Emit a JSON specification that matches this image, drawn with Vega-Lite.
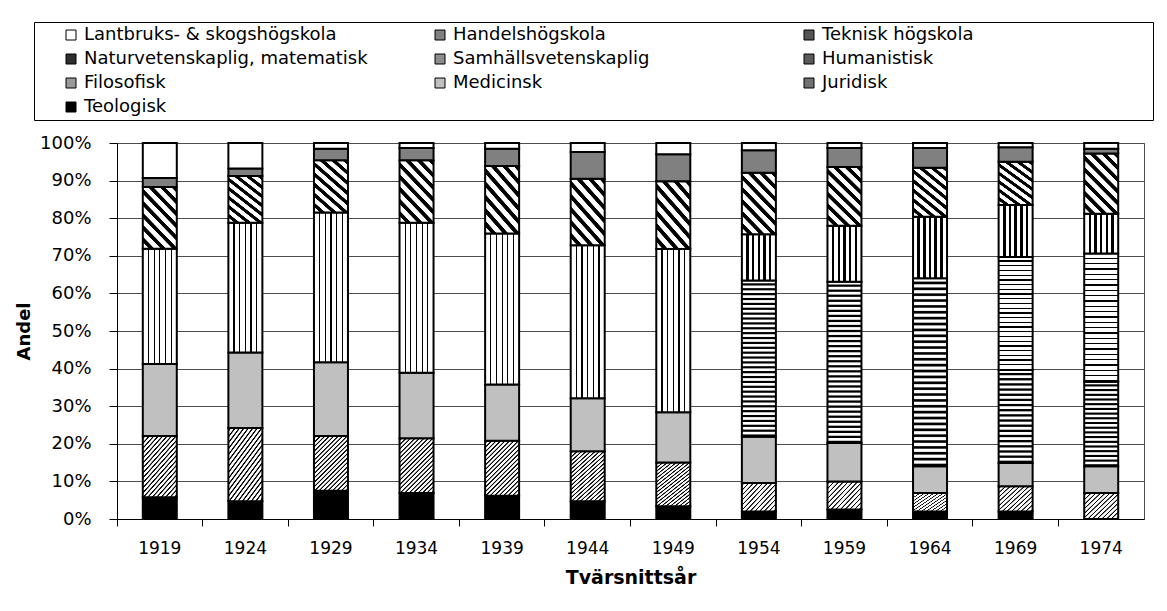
{
 "$schema": "https://vega.github.io/schema/vega-lite/v6.json",
 "width": 1027,
 "height": 376,
 "autosize": {"type": "none"},
 "padding": {"left": 117, "top": 143, "right": 23, "bottom": 92},
 "background": "white",
 "datasets": {
  "fakulteter": [
   {"fakultet": "Teologisk", "ordning": 1},
   {"fakultet": "Juridisk", "ordning": 2},
   {"fakultet": "Medicinsk", "ordning": 3},
   {"fakultet": "Filosofisk", "ordning": 4},
   {"fakultet": "Humanistisk", "ordning": 5},
   {"fakultet": "Samhällsvetenskaplig", "ordning": 6},
   {"fakultet": "Naturvetenskaplig, matematisk", "ordning": 7},
   {"fakultet": "Teknisk högskola", "ordning": 8},
   {"fakultet": "Handelshögskola", "ordning": 9},
   {"fakultet": "Lantbruks- & skogshögskola", "ordning": 10}
  ],
  "andelar": [
   {"ar": 1919, "fakultet": "Teologisk", "andel": 5.8},
   {"ar": 1919, "fakultet": "Juridisk", "andel": 16.3},
   {"ar": 1919, "fakultet": "Medicinsk", "andel": 19.1},
   {"ar": 1919, "fakultet": "Filosofisk", "andel": 30.7},
   {"ar": 1919, "fakultet": "Teknisk högskola", "andel": 16.4},
   {"ar": 1919, "fakultet": "Handelshögskola", "andel": 2.4},
   {"ar": 1919, "fakultet": "Lantbruks- & skogshögskola", "andel": 9.3},
   {"ar": 1924, "fakultet": "Teologisk", "andel": 4.7},
   {"ar": 1924, "fakultet": "Juridisk", "andel": 19.5},
   {"ar": 1924, "fakultet": "Medicinsk", "andel": 20.1},
   {"ar": 1924, "fakultet": "Filosofisk", "andel": 34.5},
   {"ar": 1924, "fakultet": "Teknisk högskola", "andel": 12.4},
   {"ar": 1924, "fakultet": "Handelshögskola", "andel": 2.0},
   {"ar": 1924, "fakultet": "Lantbruks- & skogshögskola", "andel": 6.8},
   {"ar": 1929, "fakultet": "Teologisk", "andel": 7.5},
   {"ar": 1929, "fakultet": "Juridisk", "andel": 14.6},
   {"ar": 1929, "fakultet": "Medicinsk", "andel": 19.6},
   {"ar": 1929, "fakultet": "Filosofisk", "andel": 39.8},
   {"ar": 1929, "fakultet": "Teknisk högskola", "andel": 13.9},
   {"ar": 1929, "fakultet": "Handelshögskola", "andel": 3.1},
   {"ar": 1929, "fakultet": "Lantbruks- & skogshögskola", "andel": 1.5},
   {"ar": 1934, "fakultet": "Teologisk", "andel": 6.9},
   {"ar": 1934, "fakultet": "Juridisk", "andel": 14.6},
   {"ar": 1934, "fakultet": "Medicinsk", "andel": 17.4},
   {"ar": 1934, "fakultet": "Filosofisk", "andel": 39.9},
   {"ar": 1934, "fakultet": "Teknisk högskola", "andel": 16.6},
   {"ar": 1934, "fakultet": "Handelshögskola", "andel": 3.3},
   {"ar": 1934, "fakultet": "Lantbruks- & skogshögskola", "andel": 1.3},
   {"ar": 1939, "fakultet": "Teologisk", "andel": 6.2},
   {"ar": 1939, "fakultet": "Juridisk", "andel": 14.6},
   {"ar": 1939, "fakultet": "Medicinsk", "andel": 15.0},
   {"ar": 1939, "fakultet": "Filosofisk", "andel": 40.1},
   {"ar": 1939, "fakultet": "Teknisk högskola", "andel": 18.0},
   {"ar": 1939, "fakultet": "Handelshögskola", "andel": 4.6},
   {"ar": 1939, "fakultet": "Lantbruks- & skogshögskola", "andel": 1.5},
   {"ar": 1944, "fakultet": "Teologisk", "andel": 4.7},
   {"ar": 1944, "fakultet": "Juridisk", "andel": 13.3},
   {"ar": 1944, "fakultet": "Medicinsk", "andel": 14.1},
   {"ar": 1944, "fakultet": "Filosofisk", "andel": 40.7},
   {"ar": 1944, "fakultet": "Teknisk högskola", "andel": 17.7},
   {"ar": 1944, "fakultet": "Handelshögskola", "andel": 7.1},
   {"ar": 1944, "fakultet": "Lantbruks- & skogshögskola", "andel": 2.4},
   {"ar": 1949, "fakultet": "Teologisk", "andel": 3.4},
   {"ar": 1949, "fakultet": "Juridisk", "andel": 11.6},
   {"ar": 1949, "fakultet": "Medicinsk", "andel": 13.4},
   {"ar": 1949, "fakultet": "Filosofisk", "andel": 43.4},
   {"ar": 1949, "fakultet": "Teknisk högskola", "andel": 18.0},
   {"ar": 1949, "fakultet": "Handelshögskola", "andel": 7.2},
   {"ar": 1949, "fakultet": "Lantbruks- & skogshögskola", "andel": 3.0},
   {"ar": 1954, "fakultet": "Teologisk", "andel": 2.0},
   {"ar": 1954, "fakultet": "Juridisk", "andel": 7.6},
   {"ar": 1954, "fakultet": "Medicinsk", "andel": 12.3},
   {"ar": 1954, "fakultet": "Humanistisk", "andel": 41.5},
   {"ar": 1954, "fakultet": "Naturvetenskaplig, matematisk", "andel": 12.3},
   {"ar": 1954, "fakultet": "Teknisk högskola", "andel": 16.4},
   {"ar": 1954, "fakultet": "Handelshögskola", "andel": 6.0},
   {"ar": 1954, "fakultet": "Lantbruks- & skogshögskola", "andel": 1.9},
   {"ar": 1959, "fakultet": "Teologisk", "andel": 2.5},
   {"ar": 1959, "fakultet": "Juridisk", "andel": 7.5},
   {"ar": 1959, "fakultet": "Medicinsk", "andel": 10.2},
   {"ar": 1959, "fakultet": "Humanistisk", "andel": 42.9},
   {"ar": 1959, "fakultet": "Naturvetenskaplig, matematisk", "andel": 14.9},
   {"ar": 1959, "fakultet": "Teknisk högskola", "andel": 15.6},
   {"ar": 1959, "fakultet": "Handelshögskola", "andel": 5.1},
   {"ar": 1959, "fakultet": "Lantbruks- & skogshögskola", "andel": 1.3},
   {"ar": 1964, "fakultet": "Teologisk", "andel": 2.0},
   {"ar": 1964, "fakultet": "Juridisk", "andel": 4.9},
   {"ar": 1964, "fakultet": "Medicinsk", "andel": 7.1},
   {"ar": 1964, "fakultet": "Humanistisk", "andel": 50.0},
   {"ar": 1964, "fakultet": "Naturvetenskaplig, matematisk", "andel": 16.4},
   {"ar": 1964, "fakultet": "Teknisk högskola", "andel": 13.0},
   {"ar": 1964, "fakultet": "Handelshögskola", "andel": 5.3},
   {"ar": 1964, "fakultet": "Lantbruks- & skogshögskola", "andel": 1.3},
   {"ar": 1969, "fakultet": "Teologisk", "andel": 2.0},
   {"ar": 1969, "fakultet": "Juridisk", "andel": 6.7},
   {"ar": 1969, "fakultet": "Medicinsk", "andel": 6.2},
   {"ar": 1969, "fakultet": "Humanistisk", "andel": 24.7},
   {"ar": 1969, "fakultet": "Samhällsvetenskaplig", "andel": 30.1},
   {"ar": 1969, "fakultet": "Naturvetenskaplig, matematisk", "andel": 13.8},
   {"ar": 1969, "fakultet": "Teknisk högskola", "andel": 11.5},
   {"ar": 1969, "fakultet": "Handelshögskola", "andel": 3.9},
   {"ar": 1969, "fakultet": "Lantbruks- & skogshögskola", "andel": 1.1},
   {"ar": 1974, "fakultet": "Juridisk", "andel": 6.9},
   {"ar": 1974, "fakultet": "Medicinsk", "andel": 7.1},
   {"ar": 1974, "fakultet": "Humanistisk", "andel": 22.5},
   {"ar": 1974, "fakultet": "Samhällsvetenskaplig", "andel": 34.1},
   {"ar": 1974, "fakultet": "Naturvetenskaplig, matematisk", "andel": 10.6},
   {"ar": 1974, "fakultet": "Teknisk högskola", "andel": 16.0},
   {"ar": 1974, "fakultet": "Handelshögskola", "andel": 1.3},
   {"ar": 1974, "fakultet": "Lantbruks- & skogshögskola", "andel": 1.5}
  ]
 },
 "data": {"name": "andelar"},
 "transform": [
  {"lookup": "fakultet", "from": {"data": {"name": "fakulteter"}, "key": "fakultet", "fields": ["ordning"]}}
 ],
 "mark": {"type": "bar", "width": 34, "stroke": "black", "strokeWidth": 2},
 "encoding": {
  "x": {
   "field": "ar", "type": "ordinal", "title": "Tvärsnittsår",
   "scale": {"paddingInner": 0, "paddingOuter": 0},
   "axis": {"labelAngle": 0, "bandPosition": 0, "tickSize": 7, "tickColor": "black", "tickWidth": 1,
            "domainColor": "black", "domainWidth": 1, "grid": false,
            "labelFont": "DejaVu Sans", "labelFontSize": 17, "labelColor": "black", "labelPadding": 14,
            "titleFont": "DejaVu Sans", "titleFontSize": 19, "titleFontWeight": "bold", "titleColor": "black", "titlePadding": 12}
  },
  "y": {
   "field": "andel", "type": "quantitative", "stack": "normalize", "title": "Andel",
   "scale": {"domain": [0, 1]},
   "axis": {"values": [0, 0.1, 0.2, 0.3, 0.4, 0.5, 0.6, 0.7, 0.8, 0.9, 1], "format": ".0%",
            "tickSize": 8, "tickColor": "black", "tickWidth": 1, "domainColor": "black", "domainWidth": 1,
            "grid": true, "gridColor": "#4d4d4d", "gridWidth": 1,
            "labelFont": "DejaVu Sans", "labelFontSize": 18, "labelColor": "black", "labelPadding": 18,
            "titleFont": "DejaVu Sans", "titleFontSize": 18, "titleFontWeight": "bold", "titleColor": "black", "titlePadding": 6}
  },
  "order": {"field": "ordning", "type": "quantitative", "sort": "ascending"},
  "color": {
   "condition": [
    {"test": "datum.fakultet === 'Humanistisk' && datum.ar >= 1969",
     "value": {"gradient": "linear", "x1": 0, "y1": 0, "x2": 0, "y2": 1, "stops": [
     {"offset":0.0256,"color":"#fff"},{"offset":0.0356,"color":"#000"},{"offset":0.0506,"color":"#000"},{"offset":0.0606,"color":"#fff"},
     {"offset":0.0811,"color":"#fff"},{"offset":0.0911,"color":"#000"},{"offset":0.1061,"color":"#000"},{"offset":0.1161,"color":"#fff"},
     {"offset":0.1367,"color":"#fff"},{"offset":0.1467,"color":"#000"},{"offset":0.1617,"color":"#000"},{"offset":0.1717,"color":"#fff"},
     {"offset":0.1922,"color":"#fff"},{"offset":0.2022,"color":"#000"},{"offset":0.2172,"color":"#000"},{"offset":0.2272,"color":"#fff"},
     {"offset":0.2478,"color":"#fff"},{"offset":0.2578,"color":"#000"},{"offset":0.2728,"color":"#000"},{"offset":0.2828,"color":"#fff"},
     {"offset":0.3033,"color":"#fff"},{"offset":0.3133,"color":"#000"},{"offset":0.3283,"color":"#000"},{"offset":0.3383,"color":"#fff"},
     {"offset":0.3589,"color":"#fff"},{"offset":0.3689,"color":"#000"},{"offset":0.3839,"color":"#000"},{"offset":0.3939,"color":"#fff"},
     {"offset":0.4144,"color":"#fff"},{"offset":0.4244,"color":"#000"},{"offset":0.4394,"color":"#000"},{"offset":0.4494,"color":"#fff"},
     {"offset":0.47,"color":"#fff"},{"offset":0.48,"color":"#000"},{"offset":0.495,"color":"#000"},{"offset":0.505,"color":"#fff"},
     {"offset":0.5256,"color":"#fff"},{"offset":0.5356,"color":"#000"},{"offset":0.5506,"color":"#000"},{"offset":0.5606,"color":"#fff"},
     {"offset":0.5811,"color":"#fff"},{"offset":0.5911,"color":"#000"},{"offset":0.6061,"color":"#000"},{"offset":0.6161,"color":"#fff"},
     {"offset":0.6367,"color":"#fff"},{"offset":0.6467,"color":"#000"},{"offset":0.6617,"color":"#000"},{"offset":0.6717,"color":"#fff"},
     {"offset":0.6922,"color":"#fff"},{"offset":0.7022,"color":"#000"},{"offset":0.7172,"color":"#000"},{"offset":0.7272,"color":"#fff"},
     {"offset":0.7478,"color":"#fff"},{"offset":0.7578,"color":"#000"},{"offset":0.7728,"color":"#000"},{"offset":0.7828,"color":"#fff"},
     {"offset":0.8033,"color":"#fff"},{"offset":0.8133,"color":"#000"},{"offset":0.8283,"color":"#000"},{"offset":0.8383,"color":"#fff"},
     {"offset":0.8589,"color":"#fff"},{"offset":0.8689,"color":"#000"},{"offset":0.8839,"color":"#000"},{"offset":0.8939,"color":"#fff"},
     {"offset":0.9144,"color":"#fff"},{"offset":0.9244,"color":"#000"},{"offset":0.9394,"color":"#000"},{"offset":0.9494,"color":"#fff"},
     {"offset":0.97,"color":"#fff"},{"offset":0.98,"color":"#000"},{"offset":1,"color":"#000"}
     ]}},
    {"test": "datum.fakultet === 'Humanistisk'",
     "value": {"gradient": "linear", "x1": 0, "y1": 0, "x2": 0, "y2": 1, "stops": [
      {"offset":0.0142,"color":"#fff"},{"offset":0.0202,"color":"#000"},{"offset":0.0283,"color":"#000"},{"offset":0.0343,"color":"#fff"},
      {"offset":0.0454,"color":"#fff"},{"offset":0.0514,"color":"#000"},{"offset":0.0595,"color":"#000"},{"offset":0.0655,"color":"#fff"},
      {"offset":0.0767,"color":"#fff"},{"offset":0.0827,"color":"#000"},{"offset":0.0908,"color":"#000"},{"offset":0.0968,"color":"#fff"},
      {"offset":0.1079,"color":"#fff"},{"offset":0.1139,"color":"#000"},{"offset":0.122,"color":"#000"},{"offset":0.128,"color":"#fff"},
      {"offset":0.1392,"color":"#fff"},{"offset":0.1452,"color":"#000"},{"offset":0.1533,"color":"#000"},{"offset":0.1593,"color":"#fff"},
      {"offset":0.1704,"color":"#fff"},{"offset":0.1764,"color":"#000"},{"offset":0.1845,"color":"#000"},{"offset":0.1905,"color":"#fff"},
      {"offset":0.2017,"color":"#fff"},{"offset":0.2077,"color":"#000"},{"offset":0.2158,"color":"#000"},{"offset":0.2218,"color":"#fff"},
      {"offset":0.2329,"color":"#fff"},{"offset":0.2389,"color":"#000"},{"offset":0.247,"color":"#000"},{"offset":0.253,"color":"#fff"},
      {"offset":0.2642,"color":"#fff"},{"offset":0.2702,"color":"#000"},{"offset":0.2783,"color":"#000"},{"offset":0.2843,"color":"#fff"},
      {"offset":0.2954,"color":"#fff"},{"offset":0.3014,"color":"#000"},{"offset":0.3095,"color":"#000"},{"offset":0.3155,"color":"#fff"},
      {"offset":0.3267,"color":"#fff"},{"offset":0.3327,"color":"#000"},{"offset":0.3408,"color":"#000"},{"offset":0.3468,"color":"#fff"},
      {"offset":0.3579,"color":"#fff"},{"offset":0.3639,"color":"#000"},{"offset":0.372,"color":"#000"},{"offset":0.378,"color":"#fff"},
      {"offset":0.3892,"color":"#fff"},{"offset":0.3952,"color":"#000"},{"offset":0.4033,"color":"#000"},{"offset":0.4093,"color":"#fff"},
      {"offset":0.4204,"color":"#fff"},{"offset":0.4264,"color":"#000"},{"offset":0.4345,"color":"#000"},{"offset":0.4405,"color":"#fff"},
      {"offset":0.4517,"color":"#fff"},{"offset":0.4577,"color":"#000"},{"offset":0.4658,"color":"#000"},{"offset":0.4718,"color":"#fff"},
      {"offset":0.4829,"color":"#fff"},{"offset":0.4889,"color":"#000"},{"offset":0.497,"color":"#000"},{"offset":0.503,"color":"#fff"},
      {"offset":0.5142,"color":"#fff"},{"offset":0.5202,"color":"#000"},{"offset":0.5283,"color":"#000"},{"offset":0.5343,"color":"#fff"},
      {"offset":0.5454,"color":"#fff"},{"offset":0.5514,"color":"#000"},{"offset":0.5595,"color":"#000"},{"offset":0.5655,"color":"#fff"},
      {"offset":0.5767,"color":"#fff"},{"offset":0.5827,"color":"#000"},{"offset":0.5908,"color":"#000"},{"offset":0.5968,"color":"#fff"},
      {"offset":0.6079,"color":"#fff"},{"offset":0.6139,"color":"#000"},{"offset":0.622,"color":"#000"},{"offset":0.628,"color":"#fff"},
      {"offset":0.6392,"color":"#fff"},{"offset":0.6452,"color":"#000"},{"offset":0.6533,"color":"#000"},{"offset":0.6593,"color":"#fff"},
      {"offset":0.6704,"color":"#fff"},{"offset":0.6764,"color":"#000"},{"offset":0.6845,"color":"#000"},{"offset":0.6905,"color":"#fff"},
      {"offset":0.7017,"color":"#fff"},{"offset":0.7077,"color":"#000"},{"offset":0.7158,"color":"#000"},{"offset":0.7218,"color":"#fff"},
      {"offset":0.7329,"color":"#fff"},{"offset":0.7389,"color":"#000"},{"offset":0.747,"color":"#000"},{"offset":0.753,"color":"#fff"},
      {"offset":0.7642,"color":"#fff"},{"offset":0.7702,"color":"#000"},{"offset":0.7783,"color":"#000"},{"offset":0.7843,"color":"#fff"},
      {"offset":0.7954,"color":"#fff"},{"offset":0.8014,"color":"#000"},{"offset":0.8095,"color":"#000"},{"offset":0.8155,"color":"#fff"},
      {"offset":0.8267,"color":"#fff"},{"offset":0.8327,"color":"#000"},{"offset":0.8408,"color":"#000"},{"offset":0.8468,"color":"#fff"},
      {"offset":0.8579,"color":"#fff"},{"offset":0.8639,"color":"#000"},{"offset":0.872,"color":"#000"},{"offset":0.878,"color":"#fff"},
      {"offset":0.8892,"color":"#fff"},{"offset":0.8952,"color":"#000"},{"offset":0.9033,"color":"#000"},{"offset":0.9093,"color":"#fff"},
      {"offset":0.9204,"color":"#fff"},{"offset":0.9264,"color":"#000"},{"offset":0.9345,"color":"#000"},{"offset":0.9405,"color":"#fff"},
      {"offset":0.9517,"color":"#fff"},{"offset":0.9577,"color":"#000"},{"offset":0.9658,"color":"#000"},{"offset":0.9718,"color":"#fff"},
      {"offset":0.9829,"color":"#fff"},{"offset":0.9889,"color":"#000"},{"offset":1,"color":"#000"}
     ]}},
    {"test": "datum.fakultet === 'Teknisk högskola'",
     "value": {"gradient": "linear", "x1": 0, "y1": 1, "x2": 0.673, "y2": -0.18, "stops": [
      {"offset":0.0648,"color":"#fff"},{"offset":0.0728,"color":"#000"},{"offset":0.121,"color":"#000"},{"offset":0.129,"color":"#fff"},
      {"offset":0.1898,"color":"#fff"},{"offset":0.1978,"color":"#000"},{"offset":0.246,"color":"#000"},{"offset":0.254,"color":"#fff"},
      {"offset":0.3148,"color":"#fff"},{"offset":0.3228,"color":"#000"},{"offset":0.371,"color":"#000"},{"offset":0.379,"color":"#fff"},
      {"offset":0.4398,"color":"#fff"},{"offset":0.4478,"color":"#000"},{"offset":0.496,"color":"#000"},{"offset":0.504,"color":"#fff"},
      {"offset":0.5648,"color":"#fff"},{"offset":0.5728,"color":"#000"},{"offset":0.621,"color":"#000"},{"offset":0.629,"color":"#fff"},
      {"offset":0.6898,"color":"#fff"},{"offset":0.6978,"color":"#000"},{"offset":0.746,"color":"#000"},{"offset":0.754,"color":"#fff"},
      {"offset":0.8148,"color":"#fff"},{"offset":0.8228,"color":"#000"},{"offset":0.871,"color":"#000"},{"offset":0.879,"color":"#fff"},
      {"offset":0.9398,"color":"#fff"},{"offset":0.9478,"color":"#000"},{"offset":1,"color":"#000"}
     ]}},
    {"test": "datum.fakultet === 'Naturvetenskaplig, matematisk'",
     "value": {"gradient": "linear", "x1": 0, "y1": 0, "x2": 1, "y2": 0, "stops": [
      {"offset":0.1292,"color":"#fff"},{"offset":0.1292,"color":"#000"},{"offset":0.2042,"color":"#000"},{"offset":0.2042,"color":"#fff"},
      {"offset":0.2958,"color":"#fff"},{"offset":0.2958,"color":"#000"},{"offset":0.3708,"color":"#000"},{"offset":0.3708,"color":"#fff"},
      {"offset":0.4625,"color":"#fff"},{"offset":0.4625,"color":"#000"},{"offset":0.5375,"color":"#000"},{"offset":0.5375,"color":"#fff"},
      {"offset":0.6292,"color":"#fff"},{"offset":0.6292,"color":"#000"},{"offset":0.7042,"color":"#000"},{"offset":0.7042,"color":"#fff"},
      {"offset":0.7958,"color":"#fff"},{"offset":0.7958,"color":"#000"},{"offset":0.8708,"color":"#000"},{"offset":0.8708,"color":"#fff"}
     ]}},
    {"test": "datum.fakultet === 'Samhällsvetenskaplig'",
     "value": {"gradient": "linear", "x1": 0, "y1": 0, "x2": 0, "y2": 1, "stops": [
      {"offset":0.0313,"color":"#fff"},{"offset":0.0313,"color":"#000"},{"offset":0.0417,"color":"#000"},{"offset":0.0417,"color":"#fff"},
      {"offset":0.0729,"color":"#fff"},{"offset":0.0729,"color":"#000"},{"offset":0.0833,"color":"#000"},{"offset":0.0833,"color":"#fff"},
      {"offset":0.1146,"color":"#fff"},{"offset":0.1146,"color":"#000"},{"offset":0.125,"color":"#000"},{"offset":0.125,"color":"#fff"},
      {"offset":0.1563,"color":"#fff"},{"offset":0.1563,"color":"#000"},{"offset":0.1667,"color":"#000"},{"offset":0.1667,"color":"#fff"},
      {"offset":0.1979,"color":"#fff"},{"offset":0.1979,"color":"#000"},{"offset":0.2083,"color":"#000"},{"offset":0.2083,"color":"#fff"},
      {"offset":0.2396,"color":"#fff"},{"offset":0.2396,"color":"#000"},{"offset":0.25,"color":"#000"},{"offset":0.25,"color":"#fff"},
      {"offset":0.2813,"color":"#fff"},{"offset":0.2813,"color":"#000"},{"offset":0.2917,"color":"#000"},{"offset":0.2917,"color":"#fff"},
      {"offset":0.3229,"color":"#fff"},{"offset":0.3229,"color":"#000"},{"offset":0.3333,"color":"#000"},{"offset":0.3333,"color":"#fff"},
      {"offset":0.3646,"color":"#fff"},{"offset":0.3646,"color":"#000"},{"offset":0.375,"color":"#000"},{"offset":0.375,"color":"#fff"},
      {"offset":0.4063,"color":"#fff"},{"offset":0.4063,"color":"#000"},{"offset":0.4167,"color":"#000"},{"offset":0.4167,"color":"#fff"},
      {"offset":0.4479,"color":"#fff"},{"offset":0.4479,"color":"#000"},{"offset":0.4583,"color":"#000"},{"offset":0.4583,"color":"#fff"},
      {"offset":0.4896,"color":"#fff"},{"offset":0.4896,"color":"#000"},{"offset":0.5,"color":"#000"},{"offset":0.5,"color":"#fff"},
      {"offset":0.5313,"color":"#fff"},{"offset":0.5313,"color":"#000"},{"offset":0.5417,"color":"#000"},{"offset":0.5417,"color":"#fff"},
      {"offset":0.5729,"color":"#fff"},{"offset":0.5729,"color":"#000"},{"offset":0.5833,"color":"#000"},{"offset":0.5833,"color":"#fff"},
      {"offset":0.6146,"color":"#fff"},{"offset":0.6146,"color":"#000"},{"offset":0.625,"color":"#000"},{"offset":0.625,"color":"#fff"},
      {"offset":0.6563,"color":"#fff"},{"offset":0.6563,"color":"#000"},{"offset":0.6667,"color":"#000"},{"offset":0.6667,"color":"#fff"},
      {"offset":0.6979,"color":"#fff"},{"offset":0.6979,"color":"#000"},{"offset":0.7083,"color":"#000"},{"offset":0.7083,"color":"#fff"},
      {"offset":0.7396,"color":"#fff"},{"offset":0.7396,"color":"#000"},{"offset":0.75,"color":"#000"},{"offset":0.75,"color":"#fff"},
      {"offset":0.7813,"color":"#fff"},{"offset":0.7813,"color":"#000"},{"offset":0.7917,"color":"#000"},{"offset":0.7917,"color":"#fff"},
      {"offset":0.8229,"color":"#fff"},{"offset":0.8229,"color":"#000"},{"offset":0.8333,"color":"#000"},{"offset":0.8333,"color":"#fff"},
      {"offset":0.8646,"color":"#fff"},{"offset":0.8646,"color":"#000"},{"offset":0.875,"color":"#000"},{"offset":0.875,"color":"#fff"},
      {"offset":0.9063,"color":"#fff"},{"offset":0.9063,"color":"#000"},{"offset":0.9167,"color":"#000"},{"offset":0.9167,"color":"#fff"},
      {"offset":0.9479,"color":"#fff"},{"offset":0.9479,"color":"#000"},{"offset":0.9583,"color":"#000"},{"offset":0.9583,"color":"#fff"},
      {"offset":0.9896,"color":"#fff"},{"offset":0.9896,"color":"#000"},{"offset":1,"color":"#000"}
     ]}},
    {"test": "datum.fakultet === 'Filosofisk'",
     "value": {"gradient": "linear", "x1": 0, "y1": 0, "x2": 1, "y2": 0, "stops": [
      {"offset":0.1492,"color":"#fff"},{"offset":0.1492,"color":"#000"},{"offset":0.1842,"color":"#000"},{"offset":0.1842,"color":"#fff"},
      {"offset":0.3158,"color":"#fff"},{"offset":0.3158,"color":"#000"},{"offset":0.3508,"color":"#000"},{"offset":0.3508,"color":"#fff"},
      {"offset":0.4825,"color":"#fff"},{"offset":0.4825,"color":"#000"},{"offset":0.5175,"color":"#000"},{"offset":0.5175,"color":"#fff"},
      {"offset":0.6492,"color":"#fff"},{"offset":0.6492,"color":"#000"},{"offset":0.6842,"color":"#000"},{"offset":0.6842,"color":"#fff"},
      {"offset":0.8158,"color":"#fff"},{"offset":0.8158,"color":"#000"},{"offset":0.8508,"color":"#000"},{"offset":0.8508,"color":"#fff"}
     ]}},
    {"test": "datum.fakultet === 'Juridisk' && datum.ar >= 1954",
     "value": {"gradient": "linear", "x1": 0, "y1": 0, "x2": 1.1, "y2": 0.873, "stops": [
      {"offset":0.0225,"color":"#fff"},{"offset":0.0325,"color":"#000"},{"offset":0.0445,"color":"#000"},{"offset":0.0545,"color":"#fff"},
      {"offset":0.0994,"color":"#fff"},{"offset":0.1094,"color":"#000"},{"offset":0.1214,"color":"#000"},{"offset":0.1314,"color":"#fff"},
      {"offset":0.1763,"color":"#fff"},{"offset":0.1863,"color":"#000"},{"offset":0.1983,"color":"#000"},{"offset":0.2083,"color":"#fff"},
      {"offset":0.2532,"color":"#fff"},{"offset":0.2632,"color":"#000"},{"offset":0.2752,"color":"#000"},{"offset":0.2852,"color":"#fff"},
      {"offset":0.3302,"color":"#fff"},{"offset":0.3402,"color":"#000"},{"offset":0.3522,"color":"#000"},{"offset":0.3622,"color":"#fff"},
      {"offset":0.4071,"color":"#fff"},{"offset":0.4171,"color":"#000"},{"offset":0.4291,"color":"#000"},{"offset":0.4391,"color":"#fff"},
      {"offset":0.484,"color":"#fff"},{"offset":0.494,"color":"#000"},{"offset":0.506,"color":"#000"},{"offset":0.516,"color":"#fff"},
      {"offset":0.5609,"color":"#fff"},{"offset":0.5709,"color":"#000"},{"offset":0.5829,"color":"#000"},{"offset":0.5929,"color":"#fff"},
      {"offset":0.6378,"color":"#fff"},{"offset":0.6478,"color":"#000"},{"offset":0.6598,"color":"#000"},{"offset":0.6698,"color":"#fff"},
      {"offset":0.7148,"color":"#fff"},{"offset":0.7248,"color":"#000"},{"offset":0.7368,"color":"#000"},{"offset":0.7468,"color":"#fff"},
      {"offset":0.7917,"color":"#fff"},{"offset":0.8017,"color":"#000"},{"offset":0.8137,"color":"#000"},{"offset":0.8237,"color":"#fff"},
      {"offset":0.8686,"color":"#fff"},{"offset":0.8786,"color":"#000"},{"offset":0.8906,"color":"#000"},{"offset":0.9006,"color":"#fff"},
      {"offset":0.9455,"color":"#fff"},{"offset":0.9555,"color":"#000"},{"offset":0.9675,"color":"#000"},{"offset":0.9775,"color":"#fff"}
     ]}},
    {"test": "datum.fakultet === 'Juridisk'",
     "value": {"gradient": "linear", "x1": 0, "y1": 0, "x2": 0.724, "y2": 1.171, "stops": [
      {"offset":0.012,"color":"#fff"},{"offset":0.02,"color":"#000"},{"offset":0.03,"color":"#000"},{"offset":0.038,"color":"#fff"},
      {"offset":0.062,"color":"#fff"},{"offset":0.07,"color":"#000"},{"offset":0.08,"color":"#000"},{"offset":0.088,"color":"#fff"},
      {"offset":0.112,"color":"#fff"},{"offset":0.12,"color":"#000"},{"offset":0.13,"color":"#000"},{"offset":0.138,"color":"#fff"},
      {"offset":0.162,"color":"#fff"},{"offset":0.17,"color":"#000"},{"offset":0.18,"color":"#000"},{"offset":0.188,"color":"#fff"},
      {"offset":0.212,"color":"#fff"},{"offset":0.22,"color":"#000"},{"offset":0.23,"color":"#000"},{"offset":0.238,"color":"#fff"},
      {"offset":0.262,"color":"#fff"},{"offset":0.27,"color":"#000"},{"offset":0.28,"color":"#000"},{"offset":0.288,"color":"#fff"},
      {"offset":0.312,"color":"#fff"},{"offset":0.32,"color":"#000"},{"offset":0.33,"color":"#000"},{"offset":0.338,"color":"#fff"},
      {"offset":0.362,"color":"#fff"},{"offset":0.37,"color":"#000"},{"offset":0.38,"color":"#000"},{"offset":0.388,"color":"#fff"},
      {"offset":0.412,"color":"#fff"},{"offset":0.42,"color":"#000"},{"offset":0.43,"color":"#000"},{"offset":0.438,"color":"#fff"},
      {"offset":0.462,"color":"#fff"},{"offset":0.47,"color":"#000"},{"offset":0.48,"color":"#000"},{"offset":0.488,"color":"#fff"},
      {"offset":0.512,"color":"#fff"},{"offset":0.52,"color":"#000"},{"offset":0.53,"color":"#000"},{"offset":0.538,"color":"#fff"},
      {"offset":0.562,"color":"#fff"},{"offset":0.57,"color":"#000"},{"offset":0.58,"color":"#000"},{"offset":0.588,"color":"#fff"},
      {"offset":0.612,"color":"#fff"},{"offset":0.62,"color":"#000"},{"offset":0.63,"color":"#000"},{"offset":0.638,"color":"#fff"},
      {"offset":0.662,"color":"#fff"},{"offset":0.67,"color":"#000"},{"offset":0.68,"color":"#000"},{"offset":0.688,"color":"#fff"},
      {"offset":0.712,"color":"#fff"},{"offset":0.72,"color":"#000"},{"offset":0.73,"color":"#000"},{"offset":0.738,"color":"#fff"},
      {"offset":0.762,"color":"#fff"},{"offset":0.77,"color":"#000"},{"offset":0.78,"color":"#000"},{"offset":0.788,"color":"#fff"},
      {"offset":0.812,"color":"#fff"},{"offset":0.82,"color":"#000"},{"offset":0.83,"color":"#000"},{"offset":0.838,"color":"#fff"},
      {"offset":0.862,"color":"#fff"},{"offset":0.87,"color":"#000"},{"offset":0.88,"color":"#000"},{"offset":0.888,"color":"#fff"},
      {"offset":0.912,"color":"#fff"},{"offset":0.92,"color":"#000"},{"offset":0.93,"color":"#000"},{"offset":0.938,"color":"#fff"},
      {"offset":0.962,"color":"#fff"},{"offset":0.97,"color":"#000"},{"offset":0.98,"color":"#000"},{"offset":0.988,"color":"#fff"}
     ]}}
   ],
   "field": "fakultet", "type": "nominal",
   "scale": {
    "domain": ["Lantbruks- & skogshögskola", "Handelshögskola", "Teknisk högskola", "Naturvetenskaplig, matematisk", "Samhällsvetenskaplig", "Humanistisk", "Filosofisk", "Medicinsk", "Juridisk", "Teologisk"],
    "range": ["#ffffff", "#808080", "#555555", "#2e2e2e", "#8c8c8c", "#5a5a5a", "#9a9a9a", "#c0c0c0", "#707070", "#000000"]
   },
   "legend": {
    "orient": "none", "legendX": -83, "legendY": -121,
    "direction": "horizontal", "columns": 3, "gridAlign": "all",
    "title": " ", "titleOrient": "right", "titlePadding": 176, "titleFontSize": 11,
    "symbolType": "square", "symbolSize": 100, "symbolStrokeColor": "black", "symbolStrokeWidth": 1,
    "labelFont": "DejaVu Sans", "labelFontSize": 18, "labelColor": "black", "labelLimit": 0, "labelOffset": 4,
    "rowPadding": 6, "columnPadding": 39, "padding": 4, "symbolOffset": 24,
    "strokeColor": "black", "fillColor": "white"
   }
  }
 },
 "config": {
  "font": "DejaVu Sans",
  "view": {"stroke": "#4d4d4d", "strokeWidth": 1}
 }
}
